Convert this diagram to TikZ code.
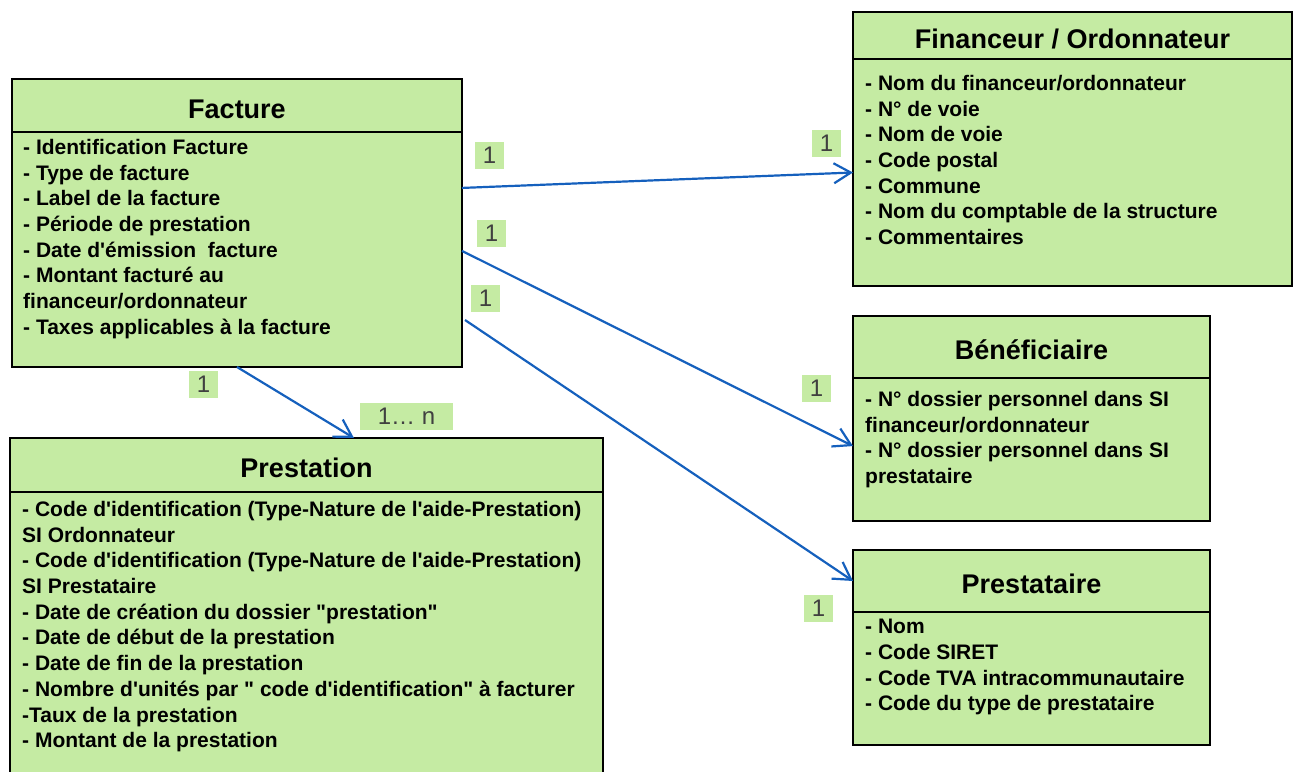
\documentclass[tikz,border=0pt]{standalone}
\usepackage{fontspec}
\setmainfont{Liberation Sans}[Ligatures=TeXOff]
\usetikzlibrary{arrows.meta,calc}
\definecolor{boxgreen}{RGB}{197,235,163}
\definecolor{relblue}{RGB}{21,96,189}
\definecolor{cardgray}{RGB}{64,64,64}
\begin{document}
\begin{tikzpicture}[x=1pt,y=-1pt,
  ent/.style={draw=black, line width=2pt, fill=boxgreen, inner sep=0pt, outer sep=0pt, anchor=north west},
  enttitle/.style={ent, font=\bfseries\fontsize{27}{32}\selectfont, text height=25.5pt, text depth=0pt},
  entlist/.style={anchor=north west, inner sep=0pt, align=left, font=\bfseries\fontsize{21}{25.7}\selectfont},
  card/.style={fill=boxgreen, text=cardgray, inner sep=0pt, minimum height=27pt, minimum width=29pt, font=\fontsize{24}{28}\selectfont},
  rel/.style={draw=relblue, line width=2.2pt, -{Straight Barb[length=17pt,width=20pt]}}]
\useasboundingbox (0,0) rectangle (1293,771);

% Facture
\node[ent, minimum width=450pt, minimum height=235pt] (facbody) at (12,132) {};
\node[enttitle, minimum width=450pt, minimum height=53pt] (factitle) at (12,79) {Facture};
\node[entlist] (factext) at ($(facbody.north west)+(11,7)$) {- Identification Facture\\
- Type de facture\\
- Label de la facture\\
- Période de prestation\\
- Date d'émission\ \ facture\\
- Montant facturé au\\
financeur/ordonnateur\\
- Taxes applicables à la facture};

% Financeur / Ordonnateur
\node[ent, minimum width=439pt, minimum height=227pt] (finbody) at (853,59) {};
\node[enttitle, minimum width=439pt, minimum height=47pt] (fintitle) at (853,12) {Financeur / Ordonnateur};
\node[entlist] (fintext) at ($(finbody.north west)+(12,16)$) {- Nom du financeur/ordonnateur\\
- N° de voie\\
- Nom de voie\\
- Code postal\\
- Commune\\
- Nom du comptable de la structure\\
- Commentaires};

% Beneficiaire
\node[ent, minimum width=357pt, minimum height=143pt] (benbody) at (853,378) {};
\node[enttitle, minimum width=357pt, minimum height=62pt] (bentitle) at (853,316) {Bénéficiaire};
\node[entlist] (bentext) at ($(benbody.north west)+(12,13)$) {- N° dossier personnel dans SI\\
financeur/ordonnateur\\
- N° dossier personnel dans SI\\
prestataire};

% Prestataire
\node[ent, minimum width=357pt, minimum height=133pt] (prtbody) at (853,612) {};
\node[enttitle, minimum width=357pt, minimum height=62pt] (prttitle) at (853,550) {Prestataire};
\node[entlist] (prttext) at ($(prtbody.north west)+(12,7)$) {- Nom\\
- Code SIRET\\
- Code TVA intracommunautaire\\
- Code du type de prestataire};

% Prestation
\node[ent, minimum width=593pt, minimum height=290pt] (psbody) at (10,492) {};
\node[enttitle, minimum width=593pt, minimum height=54pt] (pstitle) at (10,438) {Prestation};
\node[entlist] (pstext) at ($(psbody.north west)+(12,9)$) {- Code d'identification (Type-Nature de l'aide-Prestation)\\
SI Ordonnateur\\
- Code d'identification (Type-Nature de l'aide-Prestation)\\
SI Prestataire\\
- Date de création du dossier "prestation"\\
- Date de début de la prestation\\
- Date de fin de la prestation\\
- Nombre d'unités par " code d'identification" à facturer\\
-Taux de la prestation\\
- Montant de la prestation};

% cardinalities
\node[card] (c1) at (489.5,155.5) {1};
\node[card] (c2) at (491.5,233.5) {1};
\node[card] (c3) at (485.5,298.5) {1};
\node[card] (c4) at (826.5,143.5) {1};
\node[card] (c5) at (816.5,388) {1};
\node[card] (c6) at (818.5,608.5) {1};
\node[card] (c7) at (203.5,384.5) {1};
\node[card, minimum width=93pt] (c8) at (406.5,416.5) {1… n};

% relations
\draw[rel] ($(facbody.north east)!0.238!(facbody.south east)$) -- (finbody.west);
\draw[rel] ($(facbody.north east)!0.506!(facbody.south east)$) -- ($(benbody.north west)!0.476!(benbody.south west)$);
\draw[rel] ($(facbody.north east)!0.8!(facbody.south east)+(3,0)$) -- (prttitle.west);
\draw[rel] (facbody.south) -- ($(pstitle.north west)!0.58!(pstitle.north east)$);
\end{tikzpicture}
\end{document}
